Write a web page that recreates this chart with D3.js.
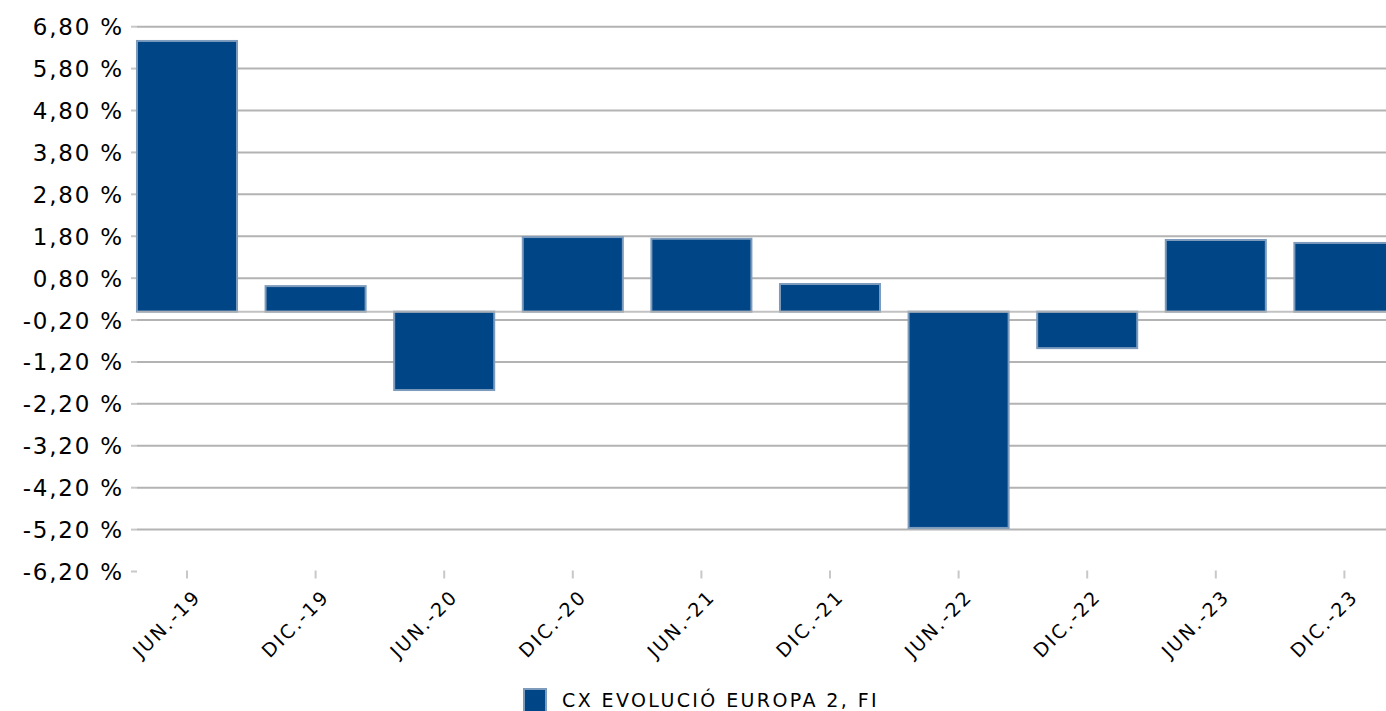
<!DOCTYPE html>
<html>
<head>
<meta charset="utf-8">
<script src="https://cdn.jsdelivr.net/npm/d3@7"></script>
<style>
  body { margin: 0; background: #fff; }
  text { font-family: "DejaVu Sans", sans-serif; fill: #000; }
</style>
</head>
<body>
<div id="chart"></div>
<script>
var categories = ["JUN.-19", "DIC.-19", "JUN.-20", "DIC.-20", "JUN.-21", "DIC.-21", "JUN.-22", "DIC.-22", "JUN.-23", "DIC.-23"];
var values = [6.46, 0.61, -1.87, 1.78, 1.74, 0.66, -5.16, -0.87, 1.71, 1.64];
var yTicks = [6.8, 5.8, 4.8, 3.8, 2.8, 1.8, 0.8, -0.2, -1.2, -2.2, -3.2, -4.2, -5.2, -6.2];
var seriesName = "CX EVOLUCIÓ EUROPA 2, FI";

var svgWidth = 1386;
var svgHeight = 711;

var plotLeft = 137;
var plotRight = 1386;
var plotTop = 26.7;
var plotBottom = 571.5;

var svg = d3.select("#chart")
    .append("svg")
    .attr("width", svgWidth)
    .attr("height", svgHeight);

var yScale = d3.scaleLinear()
    .domain([-6.2, 6.8])
    .range([plotBottom, plotTop]);

// bands centred on the category ticks, chart runs past the right edge
var xScale = d3.scaleBand()
    .domain(categories)
    .range([122.7, 1408.7])
    .paddingInner(0.222)
    .paddingOuter(0.111);

var fmt = d => d3.format(".2f")(d).replace(".", ",").replace("−", "-") + " %";

// gridlines
svg.append("g").selectAll("line")
    .data(yTicks.filter(d => d > -6.2))
    .enter()
    .append("line")
    .attr("x1", plotLeft)
    .attr("x2", plotRight)
    .attr("y1", d => yScale(d))
    .attr("y2", d => yScale(d))
    .attr("stroke", "#b3b3b3")
    .attr("stroke-width", 2);

// y tick stubs and labels
var yAxis = svg.append("g");
yAxis.selectAll("line")
    .data(yTicks)
    .enter()
    .append("line")
    .attr("x1", plotLeft - 6)
    .attr("x2", plotLeft)
    .attr("y1", d => yScale(d))
    .attr("y2", d => yScale(d))
    .attr("stroke", "#c8c8c8")
    .attr("stroke-width", 2);

yAxis.selectAll("text")
    .data(yTicks)
    .enter()
    .append("text")
    .attr("x", 124)
    .attr("y", d => yScale(d))
    .attr("dy", "0.37em")
    .attr("text-anchor", "end")
    .attr("font-size", "23px")
    .attr("letter-spacing", "1.8px")
    .text(fmt);

// bars
svg.append("g").selectAll("rect")
    .data(values)
    .enter()
    .append("rect")
    .attr("x", (d, i) => xScale(categories[i]))
    .attr("width", xScale.bandwidth())
    .attr("y", d => yScale(Math.max(0, d)))
    .attr("height", d => Math.abs(yScale(d) - yScale(0)))
    .attr("fill", "#004586")
    .attr("stroke", "#7d9cbd")
    .attr("stroke-width", 2);

// zero line
svg.append("line")
    .attr("x1", plotLeft)
    .attr("x2", plotRight)
    .attr("y1", yScale(0))
    .attr("y2", yScale(0))
    .attr("stroke", "#b3b3b3")
    .attr("stroke-width", 2)
    .attr("opacity", 0.8);

// x ticks and labels
var xAxis = svg.append("g");
xAxis.selectAll("line")
    .data(categories)
    .enter()
    .append("line")
    .attr("x1", d => xScale(d) + xScale.bandwidth() / 2)
    .attr("x2", d => xScale(d) + xScale.bandwidth() / 2)
    .attr("y1", plotBottom - 1)
    .attr("y2", plotBottom + 7)
    .attr("stroke", "#c8c8c8")
    .attr("stroke-width", 2);

xAxis.selectAll("text")
    .data(categories)
    .enter()
    .append("text")
    .attr("transform", d => `translate(${xScale(d) + xScale.bandwidth() / 2 + 15}, 598) rotate(-45)`)
    .attr("text-anchor", "end")
    .attr("font-size", "19px")
    .attr("letter-spacing", "2.2px")
    .text(d => d);

// legend
var legend = svg.append("g");
legend.append("rect")
    .attr("x", 524)
    .attr("y", 689)
    .attr("width", 22)
    .attr("height", 24)
    .attr("fill", "#004586")
    .attr("stroke", "#7d9cbd")
    .attr("stroke-width", 2);
legend.append("text")
    .attr("x", 562)
    .attr("y", 707)
    .attr("font-size", "19px")
    .attr("letter-spacing", "2.4px")
    .text(seriesName);
</script>
</body>
</html>
